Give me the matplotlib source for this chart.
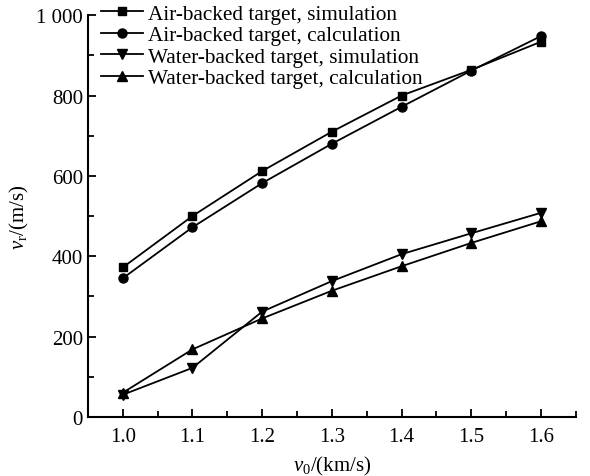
import numpy as np
import matplotlib.pyplot as plt
from matplotlib.ticker import MultipleLocator, FuncFormatter

plt.rcParams['font.family'] = ['Liberation Serif', 'DejaVu Serif']
plt.rcParams['mathtext.fontset'] = 'custom'
plt.rcParams['mathtext.rm'] = 'Liberation Serif'
plt.rcParams['mathtext.it'] = 'Liberation Serif:italic'

v0 = [1.0, 1.1, 1.2, 1.3, 1.4, 1.5, 1.6]
air_sim = [372, 500, 612, 710, 800, 864, 934]
air_calc = [345, 472, 582, 680, 772, 862, 948]
water_sim = [55, 122, 262, 338, 405, 457, 508]
water_calc = [60, 168, 245, 314, 375, 433, 487]

labels = ['Air-backed target, simulation', 'Air-backed target, calculation',
          'Water-backed target, simulation', 'Water-backed target, calculation']

fig = plt.figure(figsize=(5.9, 4.77), dpi=100)
ax = fig.add_axes([0.149, 0.124, 0.827, 0.842])

ax.plot(v0, air_sim, 'k-', marker='s', ms=6, lw=1.3, label=labels[0])
ax.plot(v0, air_calc, 'k-', marker='o', ms=6.5, lw=1.3, label=labels[1])
ax.plot(v0, water_sim, 'k-', marker='v', ms=7, lw=1.3, label=labels[2])
ax.plot(v0, water_calc, 'k-', marker='^', ms=7, lw=1.3, label=labels[3])

ax.set_xlim(0.95, 1.65)
ax.set_ylim(0, 1000)
ax.spines['top'].set_visible(False)
ax.spines['right'].set_visible(False)
ax.spines['left'].set_linewidth(1.5)
ax.spines['bottom'].set_linewidth(1.5)

ax.xaxis.set_major_locator(MultipleLocator(0.1))
ax.xaxis.set_minor_locator(MultipleLocator(0.05))
ax.yaxis.set_major_locator(MultipleLocator(200))
ax.yaxis.set_minor_locator(MultipleLocator(100))
ax.xaxis.set_major_formatter(FuncFormatter(lambda x, p: '%.1f' % x))
ax.yaxis.set_major_formatter(FuncFormatter(lambda y, p: '1 000' if int(round(y)) == 1000 else '%d' % y))
ax.tick_params(which='both', direction='in', width=1.3, labelsize=15)
ax.tick_params(which='major', length=6)
ax.tick_params(which='minor', length=4)
ax.tick_params(axis='x', pad=7)

ax.set_xlabel(r'$v_0$/(km/s)', fontsize=15, labelpad=6)
ax.set_ylabel(r'$v_{\rm r}$/(m/s)', fontsize=15, labelpad=4)

ax.legend(loc='upper left', bbox_to_anchor=(0.0, 1.06), frameon=False, fontsize=15.3,
          handlelength=2.0, handletextpad=0.25, labelspacing=0.08, borderaxespad=0.2)

fig.savefig('out.png', dpi=100)
